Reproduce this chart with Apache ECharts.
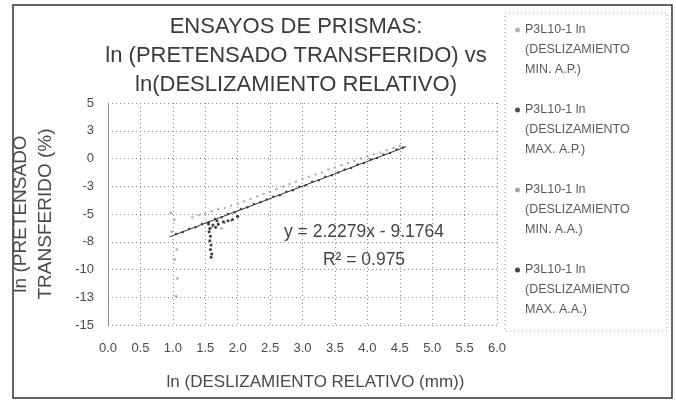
<!DOCTYPE html>
<html>
<head>
<meta charset="utf-8">
<script src="https://cdn.jsdelivr.net/npm/echarts@6/dist/echarts.min.js"></script>
<style>html,body{margin:0;padding:0;background:#fff}#c{width:676px;height:401px}</style>
</head>
<body>
<div id="c"></div>
<script>
// ---- data ----
const seriesNames = [
  'P3L10-1 ln (DESLIZAMIENTO MIN. A.P.)',
  'P3L10-1 ln (DESLIZAMIENTO MAX. A.P.)',
  'P3L10-1 ln (DESLIZAMIENTO MIN. A.A.)',
  'P3L10-1 ln (DESLIZAMIENTO MAX. A.A.)'
];
const xTickLabels = ['0.0','0.5','1.0','1.5','2.0','2.5','3.0','3.5','4.0','4.5','5.0','5.5','6.0'];
const yTickLabels = ['5','3','0','-3','-5','-8','-10','-13','-15'];

const minAP_x = [1.3,1.4,1.5,1.6,1.7,1.8,1.9,2.0,2.1,2.2,2.3,2.4,2.5,2.6,2.7,2.8,2.9,3.0,3.1,3.2,3.3,3.4,3.5,3.6,3.7,3.8,3.9,4.0,4.1,4.2,4.3,4.4,4.5];
const minAP_y = [-5.30,-5.10,-4.95,-4.75,-4.55,-4.45,-4.25,-4.05,-3.85,-3.65,-3.40,-3.20,-3.00,-2.75,-2.55,-2.30,-2.10,-1.85,-1.65,-1.45,-1.25,-1.00,-0.80,-0.60,-0.40,-0.20,0.00,0.20,0.40,0.55,0.75,0.95,1.15];

const maxAP_x = [1.05,1.15,1.25,1.35,1.45,1.55,1.65,1.75,1.85,1.95,2.05,2.15,2.25,2.35,2.45,2.55,2.65,2.75,2.85,2.95,3.05,3.15,3.25,3.35,3.45,3.55,3.65,3.75,3.85,3.95,4.05,4.15,4.25,4.35,4.45,4.55];
const maxAP_y = [-6.80,-6.65,-6.35,-6.20,-5.90,-5.75,-5.45,-5.30,-5.00,-4.85,-4.55,-4.40,-4.10,-3.95,-3.70,-3.45,-3.30,-3.00,-2.85,-2.55,-2.40,-2.10,-1.95,-1.65,-1.50,-1.25,-1.00,-0.85,-0.55,-0.40,-0.10,0.05,0.35,0.50,0.80,1.00];

const minAA_x = [0.97,1.02,0.98,1.06,1.03,1.07,1.05,1.60,1.70,1.75,1.80,1.90,2.00];
const minAA_y = [-4.9,-5.5,-6.6,-8.2,-9.1,-10.8,-12.4,-6.2,-6.0,-6.3,-5.8,-5.6,-5.3];

const maxAA_x = [1.55,1.57,1.56,1.58,1.57,1.59,1.58,1.60,1.59,1.62,1.66,1.70,1.78,1.85,1.92,2.00,1.68];
const maxAA_y = [-5.9,-6.3,-6.6,-7.0,-7.4,-7.8,-8.2,-8.6,-8.9,-6.0,-6.2,-5.9,-5.7,-5.6,-5.5,-5.2,-5.6];

const trendCoef = [2.2279, -9.1764];   // slope, intercept
const trendRangeX = [0.95, 4.6];
const trendText = ['y = 2.2279x - 9.1764', 'R\u00B2 = 0.975'];

const titleLines = ['ENSAYOS DE PRISMAS:', 'ln (PRETENSADO TRANSFERIDO) vs', 'ln(DESLIZAMIENTO RELATIVO)'];
const xAxisTitle = 'ln (DESLIZAMIENTO RELATIVO (mm))';
const yAxisTitle = 'ln (PRETENSADO\nTRANSFERIDO (%)';

// ---- build ----
const zip = (xs, ys) => xs.map((x, i) => [x, ys[i]]);
const F = '"Liberation Sans", Arial, sans-serif';
const TXT = '#4a4a4a';

const chart = echarts.init(document.getElementById('c'), null, {renderer: 'canvas'});
const pointStyle = [
  {color: '#a0a0a0', size: 2.5},
  {color: '#222222', size: 2.5},
  {color: '#8c8c8c', size: 2.5},
  {color: '#111111', size: 3}
];
const dataSets = [zip(minAP_x, minAP_y), zip(maxAP_x, maxAP_y), zip(minAA_x, minAA_y), zip(maxAA_x, maxAA_y)];

const series = dataSets.map((d, i) => ({
  name: seriesNames[i],
  type: 'scatter',
  data: d,
  symbol: 'circle',
  symbolSize: pointStyle[i].size,
  itemStyle: {color: pointStyle[i].color},
  z: 3
}));
series.push({
  name: 'trend',
  type: 'line',
  data: trendRangeX.map(x => [x, trendCoef[0] * x + trendCoef[1]]),
  symbol: 'none',
  lineStyle: {color: '#333', width: 1},
  silent: true,
  z: 4
});

// legend marker: small dot placed at the top of a tall icon box (aligned with first text line)
const legendIcon = 'path://M0,1 A1,1 0 1,1 2,1 A1,1 0 1,1 0,1 Z M1,18 L1,18';

const option = {
  animation: false,
  backgroundColor: '#fff',
  textStyle: {fontFamily: F},
  title: {
    text: titleLines.join('\n'),
    left: 291, top: 7, textAlign: 'center',
    textStyle: {fontFamily: F, fontSize: 22, fontWeight: 'normal', color: '#3a3a3a', lineHeight: 29}
  },
  legend: {
    data: seriesNames,
    orient: 'vertical',
    left: 510, top: 15,
    itemWidth: 5, itemHeight: 45, itemGap: 20,
    icon: legendIcon,
    symbolKeepAspect: true,
    formatter: n => n.replace(' (', '\n(').replace('MIENTO ', 'MIENTO\n'),
    textStyle: {fontFamily: F, fontSize: 12.5, color: '#5a5a5a', lineHeight: 20}
  },
  grid: {left: 97, right: 179, top: 103, bottom: 76, containLabel: false},
  xAxis: {
    type: 'value', min: 0, max: 6, interval: 0.5,
    name: xAxisTitle, nameLocation: 'middle', nameGap: 49,
    nameTextStyle: {fontFamily: F, fontSize: 17, color: TXT, padding: [0, 0, 0, 26]},
    axisLine: {show: false},
    axisTick: {show: false},
    axisLabel: {margin: 17, fontSize: 13, color: TXT, fontFamily: F,
      formatter: v => xTickLabels[Math.round(v / 0.5)]},
    splitLine: {show: true, lineStyle: {color: '#8a8a8a', type: [1, 3], width: 1}}
  },
  yAxis: {
    type: 'value', min: -15, max: 5, interval: 2.5,
    name: yAxisTitle, nameLocation: 'middle', nameGap: 50, nameRotate: 90,
    nameTextStyle: {fontFamily: F, fontSize: 19, color: TXT, lineHeight: 25},
    axisLine: {show: true, lineStyle: {color: '#888', type: [1, 1], width: 1}},
    axisTick: {show: false},
    axisLabel: {margin: 14, fontSize: 13, color: TXT, fontFamily: F,
      formatter: v => yTickLabels[Math.round((5 - v) / 2.5)]},
    splitLine: {show: true, lineStyle: {color: '#8a8a8a', type: [1, 3], width: 1}}
  },
  graphic: [
    {type: 'rect', shape: {x: 13, y: 5, width: 659, height: 393}, style: {fill: 'none', stroke: '#333', lineWidth: 1.5}, silent: true, z: -10},
    {type: 'rect', shape: {x: 505, y: 13, width: 162, height: 318}, style: {fill: 'none', stroke: '#999', lineWidth: 1, lineDash: [1, 3]}, silent: true, z: -9},
    {type: 'text', x: 364, y: 232, style: {text: trendText[0], font: '17.5px ' + F, fill: '#444', textAlign: 'center', textVerticalAlign: 'middle'}, z: 10},
    {type: 'text', x: 364, y: 260, style: {text: trendText[1], font: '17.5px ' + F, fill: '#444', textAlign: 'center', textVerticalAlign: 'middle'}, z: 10}
  ],
  series: series
};
chart.setOption(option);
</script>
</body>
</html>
